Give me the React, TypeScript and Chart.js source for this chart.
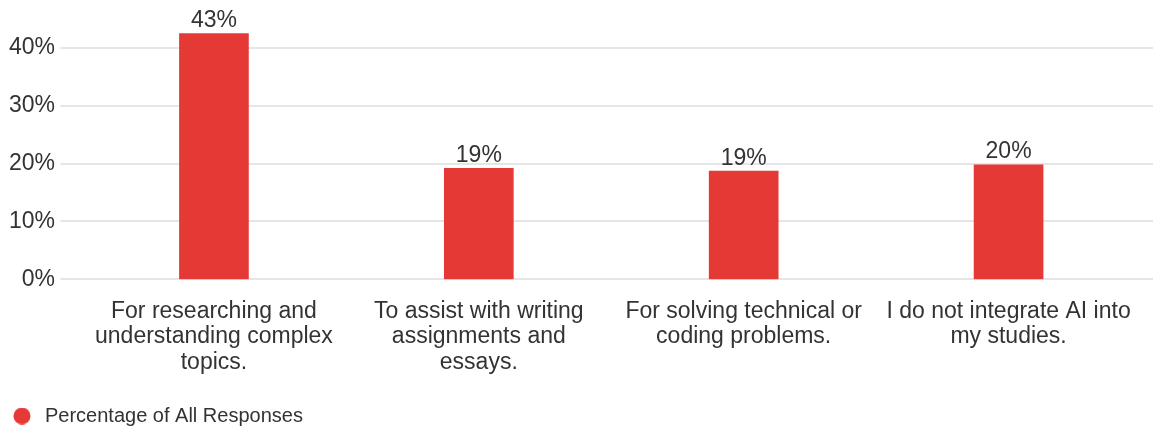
import React, { useEffect, useRef } from "react";
import { Chart, registerables } from "chart.js";

Chart.register(...registerables);

const categories: string[][] = [
  ["For researching and", "understanding complex", "topics."],
  ["To assist with writing", "assignments and", "essays."],
  ["For solving technical or", "coding problems."],
  ["I do not integrate AI into", "my studies."],
];
const seriesName = "Percentage of All Responses";
const values: number[] = [42.5, 19.2, 18.7, 19.8];
const valueLabels: string[] = ["43%", "19%", "19%", "20%"];
const yTickStep = 10;

const FONT = "'Liberation Sans', Arial, sans-serif";
const TEXT = "#333333";
const RED = "#e53935";
const GRID = "#e6e6e6";

const fullGrid = {
  id: "fullGrid",
  beforeDatasetsDraw(chart: any) {
    const { ctx, chartArea, width } = chart;
    const y = chart.scales.y;
    ctx.save();
    ctx.strokeStyle = GRID;
    ctx.lineWidth = 2;
    y.ticks.forEach((t: any) => {
      const py = Math.round(y.getPixelForValue(t.value));
      ctx.beginPath();
      ctx.moveTo(chartArea.left - 21, py);
      ctx.lineTo(width, py);
      ctx.stroke();
    });
    ctx.restore();
  },
};

const barLabels = {
  id: "barLabels",
  afterDatasetsDraw(chart: any) {
    const { ctx } = chart;
    const meta = chart.getDatasetMeta(0);
    ctx.save();
    ctx.fillStyle = TEXT;
    ctx.font = `23px ${FONT}`;
    ctx.textAlign = "center";
    ctx.textBaseline = "alphabetic";
    meta.data.forEach((el: any, i: number) => {
      ctx.fillText(valueLabels[i], el.x, el.y - 6.5);
    });
    ctx.restore();
  },
};

function makeDot(): HTMLCanvasElement {
  const c = document.createElement("canvas");
  c.width = 31;
  c.height = 17;
  const g = c.getContext("2d") as CanvasRenderingContext2D;
  g.fillStyle = RED;
  g.beginPath();
  g.arc(18, 8.5, 8.5, 0, Math.PI * 2);
  g.fill();
  return c;
}

export default function App() {
  const ref = useRef<HTMLCanvasElement | null>(null);
  useEffect(() => {
    document.body.style.margin = "0";
    const dot = makeDot();
    const chart = new Chart(ref.current as HTMLCanvasElement, {
      type: "bar",
      data: {
        labels: categories,
        datasets: [
          {
            label: seriesName,
            data: values,
            backgroundColor: RED,
            borderWidth: 0,
            barThickness: 69,
            categoryPercentage: 1,
            pointStyle: dot as any,
          },
        ],
      },
      options: {
        animation: false,
        responsive: false,
        maintainAspectRatio: false,
        layout: { padding: { left: 0, right: 12, top: 19, bottom: -7 } },
        plugins: {
          tooltip: { enabled: false },
          legend: {
            position: "bottom",
            align: "start",
            labels: {
              usePointStyle: true,
              pointStyleWidth: 31,
              boxHeight: 17,
              padding: 4,
              color: TEXT,
              font: { family: FONT, size: 20 },
            },
          },
        },
        scales: {
          x: {
            grid: { display: false, drawTicks: false },
            border: { display: false },
            afterFit: (s: any) => {
              s.paddingLeft = 0;
              s.paddingRight = 0;
              s.height += 7.7;
            },
            ticks: {
              color: TEXT,
              font: { family: FONT, size: 23, lineHeight: 1.1087 },
              padding: 19.25,
              maxRotation: 0,
              autoSkip: false,
            },
          },
          y: {
            min: 0,
            max: 45,
            grid: { display: false, drawTicks: false },
            border: { display: false },
            afterFit: (s: any) => {
              s.width = 81.5;
              s.paddingTop = 0;
              s.paddingBottom = 0;
            },
            afterBuildTicks: (scale: any) => {
              scale.ticks = scale.ticks.filter((t: any) => t.value % yTickStep === 0);
            },
            ticks: {
              stepSize: yTickStep,
              includeBounds: false,
              autoSkip: false,
              color: TEXT,
              font: { family: FONT, size: 23 },
              padding: 26.5,
              callback: (v: any) => `${v}%`,
            },
          },
        },
      },
      plugins: [fullGrid, barLabels],
    });
    return () => chart.destroy();
  }, []);
  return <canvas ref={ref} width={1153} height={429} style={{ display: "block" }} />;
}
